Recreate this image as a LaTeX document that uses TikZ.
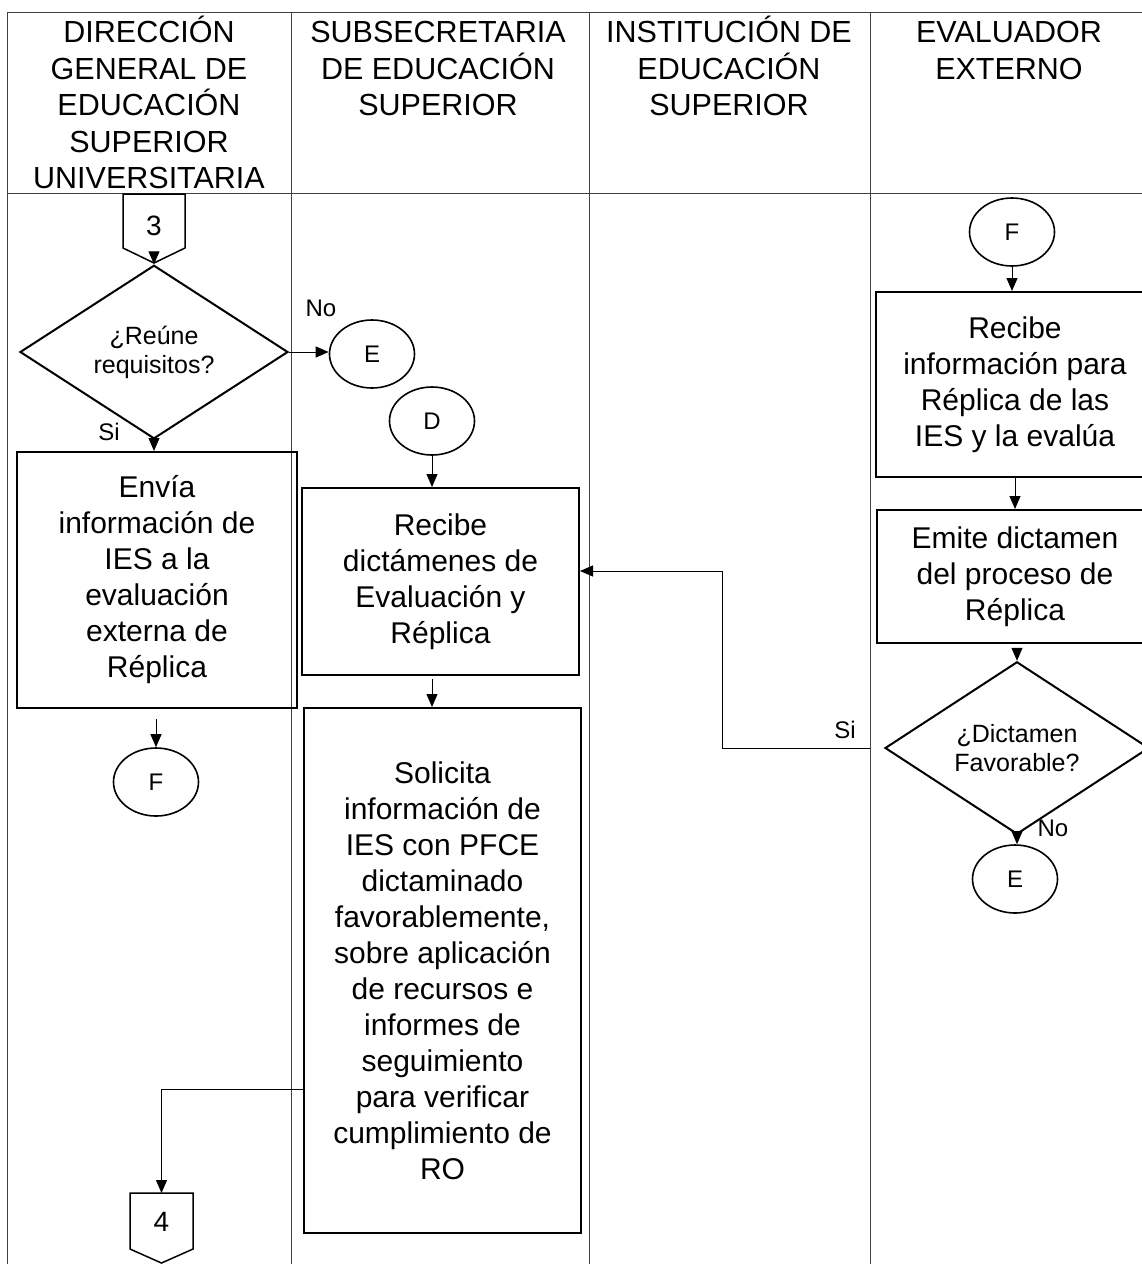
\documentclass[tikz,border=0pt]{standalone}
\usepackage{fontspec}
\setmainfont{Liberation Sans}
\usetikzlibrary{shapes.geometric,arrows.meta}

\begin{document}
\begin{tikzpicture}[x=1pt,y=-1pt,
  laneline/.style={line width=0.8pt,black!75},
  lanehead/.style={anchor=north,align=center,inner sep=0pt,
    font=\fontsize{30.5}{36.5}\selectfont},
  proc/.style={draw,line width=2pt,align=center,inner sep=0pt,
    font=\fontsize{30}{36}\selectfont},
  dec/.style={draw,diamond,line width=2pt,align=center,inner sep=0pt,
    minimum width=268pt,minimum height=135pt,font=\fontsize{25}{29}\selectfont},
  link/.style={draw,ellipse,line width=1.6pt,inner sep=0pt,
    minimum width=85pt,minimum height=68pt,font=\fontsize{24}{26}\selectfont},
  offpage/.style={line width=1.5pt,line join=miter},
  flow/.style={line width=1pt,-{Triangle[length=13pt,width=11pt]}},
  lbl/.style={inner sep=0pt,font=\fontsize{24}{27}\selectfont}]

  \useasboundingbox (0,0) rectangle (1142,1264);
  \clip (0,0) rectangle (1142,1264);

  % lanes
  \draw[laneline] (7,12) -- (1142,12);
  \draw[laneline] (7,193) -- (1142,193);
  \foreach \x in {7,291,589,870}
    \draw[laneline] (\x,12) -- (\x,1264);

  \node[lanehead] (h1) at (149,16) {\vphantom{Ó}DIRECCIÓN\\GENERAL DE\\EDUCACIÓN\\SUPERIOR\\UNIVERSITARIA};
  \node[lanehead] (h2) at (438,16) {\vphantom{Ó}SUBSECRETARIA\\DE EDUCACIÓN\\SUPERIOR};
  \node[lanehead] (h3) at (729,16) {\vphantom{Ó}INSTITUCIÓN DE\\EDUCACIÓN\\SUPERIOR};
  \node[lanehead] (h4) at (1009,16) {\vphantom{Ó}EVALUADOR\\EXTERNO};

  % off-page connectors
  \draw[offpage] (123,194) -- (185,194) -- (185,248) -- (154,263) -- (123,248) -- cycle;
  \node[lbl,font=\fontsize{28}{30}\selectfont] (n3) at (154,226) {3};
  \coordinate (c3) at (154,263);
  \draw[offpage] (130,1193) -- (193,1193) -- (193,1249) -- (161.5,1263) -- (130,1249) -- cycle;
  \node[lbl,font=\fontsize{28}{30}\selectfont] (n4) at (161.5,1222) {4};
  \coordinate (c4) at (161.5,1193);

  % steps
  \node[dec] (reune) at (154,352) {¿Reúne\\requisitos?};
  \node[proc,minimum width=280pt,minimum height=256pt] (envia) at (157,580)
    {Envía\\información de\\IES a la\\evaluación\\externa de\\Réplica};
  \node[link] (e1) at (372,354) {E};
  \node[link] (d1) at (432,421) {D};
  \node[link] (f1) at (156,782) {F};
  \node[proc,minimum width=277pt,minimum height=187pt] (recdict) at (440.5,581.5)
    {Recibe\\dictámenes de\\Evaluación y\\Réplica};
  \node[proc,minimum width=277pt,minimum height=525pt] (solic) at (442.5,970.5)
    {Solicita\\información de\\IES con PFCE\\dictaminado\\favorablemente,\\sobre aplicación\\de recursos e\\informes de\\seguimiento\\para verificar\\cumplimiento de\\RO};
  \node[link] (f2) at (1012,232) {F};
  \node[proc,minimum width=278pt,minimum height=185pt] (recinfo) at (1015,384.5)
    {Recibe\\información para\\Réplica de las\\IES y la evalúa};
  \node[proc,minimum width=276pt,minimum height=133pt] (emite) at (1015,576.5)
    {Emite dictamen\\del proceso de\\Réplica};
  \node[dec,minimum width=264pt] (favor) at (1017,748) {¿Dictamen\\Favorable?};
  \node[link] (e2) at (1015,879) {E};

  \node[lbl] (no1) at (321,308) {No};
  \node[lbl] (si1) at (109,432) {Si};
  \node[lbl] (si2) at (845,730) {Si};
  \node[lbl] (no2) at (1053,828) {No};

  % arrows
  \draw[flow] (c3) -- (reune.north);
  \draw[flow] (reune.east) -- (reune.east -| e1.west);
  \draw[flow] (reune.south) -- (reune.south |- envia.north);
  \draw[flow,shorten <=10pt] (f1.north |- envia.south) -- (f1.north);
  \draw[flow] (d1.south) -- (d1.south |- recdict.north);
  \draw[flow,shorten <=3pt] (recdict.south -| d1) -- (solic.north -| d1);
  \draw[flow] (solic.west |- 0,1089) -| (c4);
  \draw[flow] (f2.south) -- (f2.south |- recinfo.north);
  \draw[flow] (recinfo.south) -- (emite.north);
  \draw[flow,shorten <=7pt] (emite.south -| favor.north) -- (favor.north);
  \draw[flow] ([xshift=-14pt]favor.west) -- ++(-148,0) |- (recdict.east |- 0,571);
  \draw[flow] (favor.south) -- (favor.south |- e2.north);
\end{tikzpicture}
\end{document}
